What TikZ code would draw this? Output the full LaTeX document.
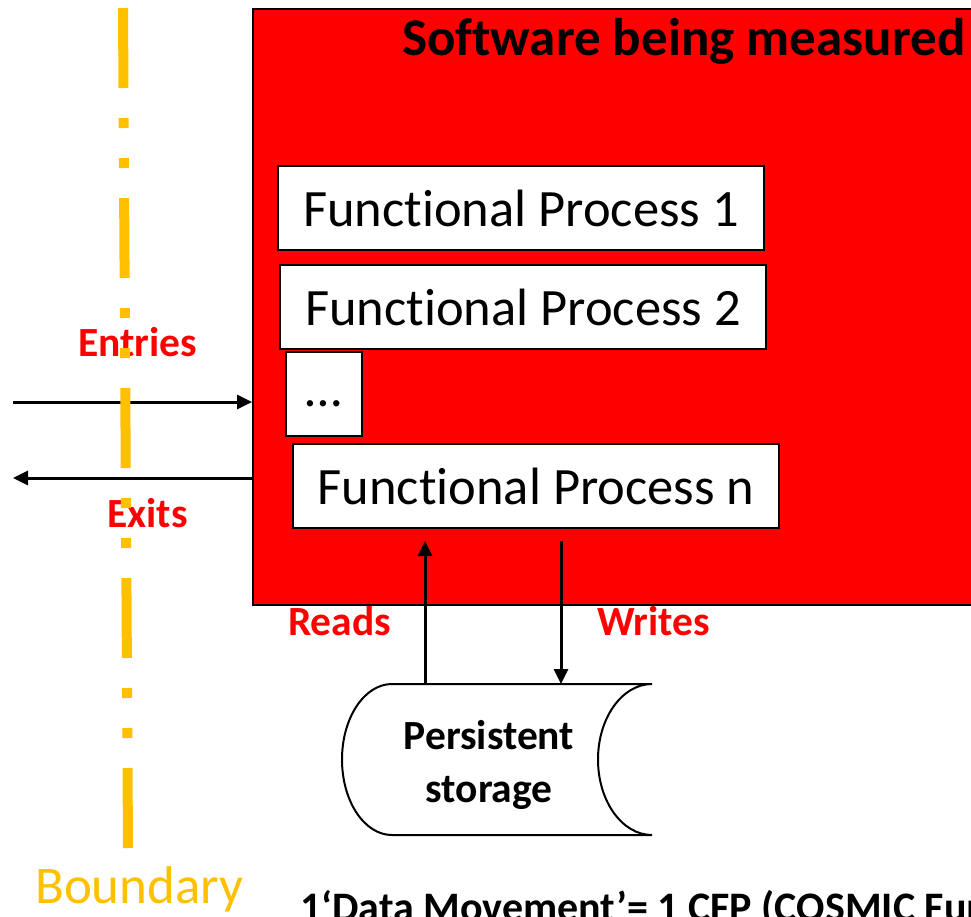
\documentclass[tikz,border=0pt]{standalone}
\usepackage{fontspec}
\setmainfont[Ligatures=NoCommon]{Carlito}
\usetikzlibrary{arrows.meta}
\definecolor{bndyellow}{HTML}{FFC000}
\definecolor{swred}{HTML}{FF0000}

\begin{document}
\begin{tikzpicture}[x=1pt,y=-1pt]
	\useasboundingbox (0,0) rectangle (971,916);
	\begin{scope}[every node/.style={inner sep=0pt},
		fpbox/.style={draw=black, line width=2pt, fill=white,
			minimum width=486pt, minimum height=84pt,
			font=\fontsize{52.5}{62}\selectfont},
		lbl/.style={anchor=base west, text=swred,
			font=\fontsize{41.5}{50}\selectfont\bfseries}]
		\node[draw=black, line width=2pt, fill=swred, anchor=north west,
			minimum width=760pt, minimum height=596pt] (sw) at (252,8) {};
		\node[anchor=base west, font=\fontsize{53}{62}\selectfont\bfseries] (title) at (402,55) {Software being measured};
		\node[fpbox] (fp1) at (521,208) {Functional Process 1};
		\node[fpbox] (fp2) at (523,307) {Functional Process 2};
		\node[fpbox, minimum width=76pt] (dots) at (324,394) {\strut\ldots};
		\node[fpbox] (fpn) at (536,486) {Functional Process n};
		\node[lbl] (entries) at (78,356) {Entries};
		\node[lbl] (exits) at (107,527) {Exits};
		\node[lbl] (reads) at (288,635) {Reads};
		\node[lbl] (writes) at (597,635) {Writes};
	\end{scope}
	% persistent storage
	\draw[line width=2pt, fill=white] (652,684) -- (392,684)
		arc[start angle=270, end angle=90, x radius=50, y radius=75.5] -- (652,835)
		arc[start angle=90, end angle=270, x radius=54, y radius=75.5];
	\node[align=center, inner sep=0pt, font=\fontsize{41.5}{53}\selectfont\bfseries] (store) at (489,765) {Persistent\\storage};
	\coordinate (entfoot) at (13,402);
	\coordinate (exfoot) at (13,478);
	\coordinate (rdfoot) at (425,684);
	\coordinate (rdtip) at (425,541);
	\coordinate (wrtop) at (561,541);
	\coordinate (wrfoot) at (561,684);
	\begin{scope}[>={Triangle[length=15pt,width=14pt]},
			every edge/.style={draw=black, line width=3pt}]
		\path [->] (entfoot) edge (entfoot -| sw.west);
		\path [->] (exfoot -| sw.west) edge (exfoot);
		\path [->] (rdfoot) edge (rdtip);
		\path [->] (wrtop) edge (wrfoot);
	\end{scope}
	% boundary
	\draw[bndyellow, line width=10pt,
		dash pattern=on 80pt off 30pt on 10pt off 30pt on 10pt off 30pt] (123,8) -- (128,848);
	\node[anchor=base west, inner sep=0pt, text=bndyellow,
		font=\fontsize{53}{62}\selectfont] (bnd) at (35,903) {Boundary};
	\node[anchor=base west, inner sep=0pt, font=\fontsize{42}{50}\selectfont\bfseries] (note) at (300,921) {1‘Data Movement’= 1 CFP (COSMIC Function Point)};
\end{tikzpicture}
\end{document}
